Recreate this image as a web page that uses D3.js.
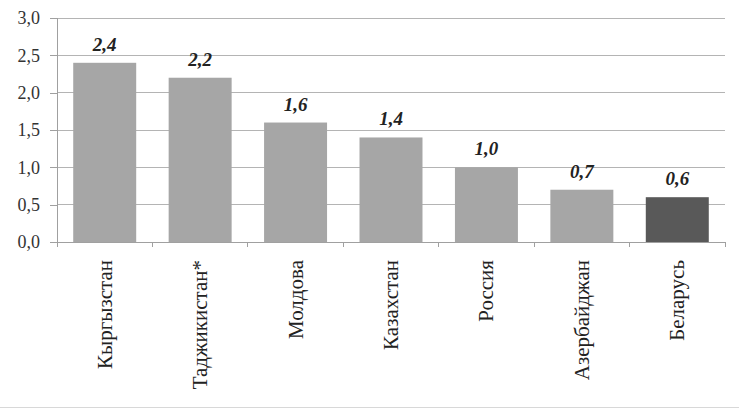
<!DOCTYPE html>
<html><head><meta charset="utf-8">
<script src="https://cdn.jsdelivr.net/npm/d3@7"></script>
<style>body{margin:0;background:#fff}svg{display:block}</style>
</head><body><svg id="c" width="739" height="409"></svg>
<script>
const categories = ["Кыргызстан","Таджикистан*","Молдова","Казахстан","Россия","Азербайджан","Беларусь"];
const values = [2.4, 2.2, 1.6, 1.4, 1.0, 0.7, 0.6];
const highlight = ["Беларусь"];
const yTicks = [0, 0.5, 1.0, 1.5, 2.0, 2.5, 3.0];

const FONT = "'Liberation Serif', 'Times New Roman', Times, serif";
const svg = d3.select("#c");
const m = {l:57, r:14, t:18, b:167};
const W = 739, H = 409;
const x = d3.scaleBand().domain(categories).range([m.l, W-m.r]).paddingInner(0.34).paddingOuter(0.17);
const y = d3.scaleLinear().domain([0,3]).range([H-m.b, m.t]);
const fmt = v => d3.format(".1f")(v).replace(".", ",");

// gridlines
svg.append("g").selectAll("line").data(yTicks.slice(1)).join("line")
  .attr("x1", m.l).attr("x2", W-m.r).attr("y1", d=>y(d)).attr("y2", d=>y(d))
  .attr("stroke", "#b4b4b4").attr("stroke-width", 1).attr("shape-rendering","crispEdges");

// y axis
const ya = svg.append("g").attr("transform", `translate(${m.l},0)`)
  .call(d3.axisLeft(y).tickValues(yTicks).tickFormat(fmt).tickSize(7).tickPadding(10));
ya.attr("font-family", null).attr("font-size", null);
ya.select(".domain").attr("stroke", "#a0a0a0").attr("shape-rendering","crispEdges");
ya.selectAll(".tick line").attr("stroke", "#a0a0a0").attr("shape-rendering","crispEdges");
ya.selectAll("text").style("font-family", FONT).style("font-size", "18px").attr("fill","#333");

// bars
svg.append("g").selectAll("rect").data(categories).join("rect")
  .attr("x", d=>x(d)).attr("width", x.bandwidth())
  .attr("y", (d,i)=>y(values[i])).attr("height", (d,i)=>y(0)-y(values[i]))
  .attr("fill", d=>highlight.includes(d) ? "#595959" : "#a6a6a6");

// value labels
svg.append("g").selectAll("text").data(categories).join("text")
  .attr("x", d=>x(d)+x.bandwidth()/2).attr("y", (d,i)=>y(values[i])-12)
  .attr("text-anchor","middle").style("font-family", FONT)
  .style("font-size", "19px").style("font-weight","bold").style("font-style","italic").attr("fill","#222")
  .text((d,i)=>fmt(values[i]));

// x axis
const bounds = d3.range(categories.length+1).map(i => m.l + i*(W-m.l-m.r)/categories.length);
const xa = svg.append("g");
xa.append("line").attr("x1", m.l).attr("x2", W-m.r).attr("y1", y(0)).attr("y2", y(0))
  .attr("stroke","#a0a0a0").attr("shape-rendering","crispEdges");
xa.selectAll("line.t").data(bounds).join("line").attr("class","t")
  .attr("x1", d=>d).attr("x2", d=>d).attr("y1", y(0)).attr("y2", y(0)+5)
  .attr("stroke","#a0a0a0").attr("shape-rendering","crispEdges");
xa.selectAll("text").data(categories).join("text")
  .attr("transform", d=>`translate(${x(d)+x.bandwidth()/2+7},${y(0)+18}) rotate(-90)`)
  .attr("text-anchor","end").style("font-family", FONT)
  .style("font-size", "21px").attr("fill","#222").text(d=>d);

// bottom border
svg.append("line").attr("x1",0).attr("x2",W).attr("y1",407.5).attr("y2",407.5).attr("stroke","#d8d8d8");
</script></body></html>
